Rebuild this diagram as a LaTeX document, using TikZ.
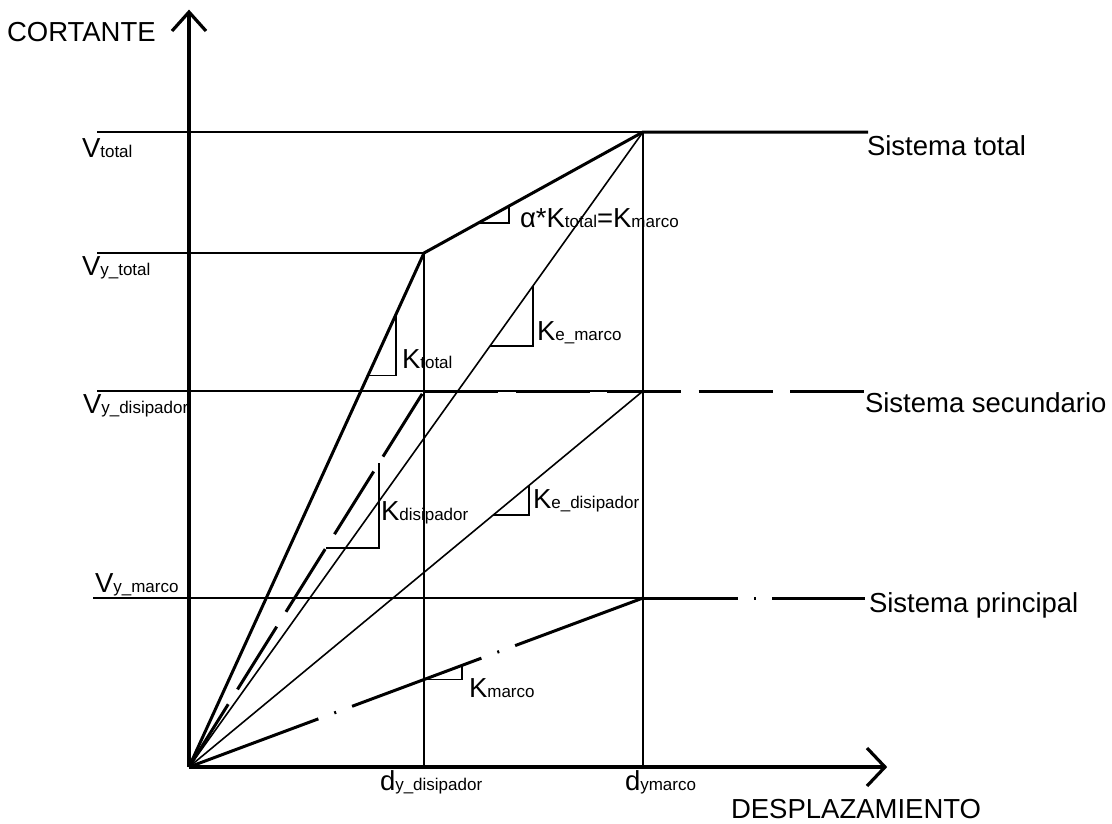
\documentclass[tikz,border=0pt]{standalone}
\usepackage{fontspec}
\setmainfont{Liberation Sans}
\usetikzlibrary{calc}
\newcommand{\bigtxt}{\fontsize{27.5}{30}\selectfont}
\newcommand{\subtxt}{\fontsize{17}{18}\selectfont}
\newcommand{\sym}[2]{{\bigtxt #1}{\subtxt #2}}

\begin{document}
\begin{tikzpicture}[x=1pt,y=-1pt,
  thinline/.style={line width=1.6pt},
  curve/.style={line width=3pt},
  axisline/.style={line width=3.2pt},
  secdash/.style={curve,dash pattern=on 74pt off 17.5pt},
  pridash/.style={curve,dash pattern=on 138pt off 17pt on 2pt off 17pt},
  prihdash/.style={curve,dash pattern=on 95pt off 16pt on 2pt off 16pt},
  lbl/.style={anchor=base west,inner sep=0pt,outer sep=0pt,font=\bigtxt}]
\useasboundingbox (0,0) rectangle (1112,823);

% key points of the curves
\coordinate (O)   at (189,767);
\coordinate (ytip) at (189,12);
\coordinate (xtip) at (885,767);
\coordinate (Pyt) at (424,253);
\coordinate (Pt)  at (643,132);
\coordinate (Pyd) at (424,391);
\coordinate (Pd)  at (643,391);
\coordinate (Pm)  at (643,598);
\coordinate (Et)  at (868,132);
\coordinate (Ed)  at (865,391);
\coordinate (Em)  at (865,598);
\coordinate (Lt)  at (97,132);
\coordinate (Lyt) at (97,253);
\coordinate (Lyd) at (97,391);
\coordinate (Lym) at (93,598);
\coordinate (Bd)  at (424,767);
\coordinate (Bm)  at (643,767);

% reference lines
\draw[thinline] (Lt) -- (Pt);
\draw[thinline] (Lyt) -- (Pyt);
\draw[thinline] (Lyd) -- (Pd);
\draw[thinline] (Lym) -- (Pm);
\draw[thinline] (Pyt) -- (Bd);
\draw[thinline] (Pt) -- (Bm);

% elastic stiffness lines
\draw[thinline] (O) -- (Pt);
\draw[thinline] (O) -- (Pd);

% total system
\draw[curve] (O) -- (Pyt) -- (Pt) -- (Et);
% secondary system (dissipator)
\draw[secdash] (O) -- (Pyd);
\draw[secdash] (Pyd) -- (Ed);
% main system (frame)
\draw[pridash] (O) -- (Pm);
\draw[prihdash] (Pm) -- (Em);

% axes
\draw[axisline] (O) -- (ytip);
\draw[axisline] ($(ytip)+(-17,19)$) -- (ytip) -- ($(ytip)+(17,19)$);
\draw[axisline] (O) -- (xtip);
\draw[axisline] ($(xtip)+(-18,-19)$) -- (xtip) -- ($(xtip)+(-18,19)$);

% slope triangles
\coordinate (a1) at ($(Pyt)!0.247!(Pt)$);
\coordinate (a2) at ($(Pyt)!0.388!(Pt)$);
\draw[thinline] (a1) -- (a1 -| a2) -- (a2);
\coordinate (b1) at ($(O)!0.762!(Pyt)$);
\coordinate (b2) at ($(O)!0.881!(Pyt)$);
\draw[thinline] (b1) -- (b1 -| b2) -- (b2);
\coordinate (c1) at ($(O)!0.663!(Pt)$);
\coordinate (c2) at ($(O)!0.758!(Pt)$);
\draw[thinline] (c1) -- (c1 -| c2) -- (c2);
\coordinate (d1) at ($(O)!0.583!(Pyd)$);
\coordinate (d2) at ($(O)!0.809!(Pyd)$);
\draw[thinline] (d1) -- (d1 -| d2) -- (d2);
\coordinate (e1) at ($(O)!0.670!(Pd)$);
\coordinate (e2) at ($(O)!0.749!(Pd)$);
\draw[thinline] (e1) -- (e1 -| e2) -- (e2);
\coordinate (f1) at ($(O)!0.518!(Pm)$);
\coordinate (f2) at ($(O)!0.601!(Pm)$);
\draw[thinline] (f1) -- (f1 -| f2) -- (f2);

% axis titles
\node[lbl] (cort) at (7,41) {CORTANTE};
\node[lbl] (desp) at (731,818) {DESPLAZAMIENTO};

% shear levels
\node[lbl] (vt)  at (82,157) {\sym{V}{total}};
\node[lbl] (vyt) at (82,275) {\sym{V}{y\_total}};
\node[lbl] (vyd) at (83,413) {\sym{V}{y\_disipador}};
\node[lbl] (vym) at (95,592) {\sym{V}{y\_marco}};

% displacements
\node[lbl] (dyd) at (380,790) {\sym{d}{y\_disipador}};
\node[lbl] (dym) at (625,790) {\sym{d}{ymarco}};

% stiffness labels
\node[lbl] (kalpha) at (520,227) {{\bigtxt α*K}{\subtxt total}{\bigtxt =K}{\subtxt marco}};
\node[lbl] (ktot)  at (402,368) {\sym{K}{total}};
\node[lbl] (kem)   at (537,340) {\sym{K}{e\_marco}};
\node[lbl] (kdis)  at (381,520) {\sym{K}{disipador}};
\node[lbl] (ked)   at (533,508) {\sym{K}{e\_disipador}};
\node[lbl] (kmar)  at (469,697) {\sym{K}{marco}};

% system names
\node[lbl] (st)  at (867,155) {Sistema total};
\node[lbl] (ss)  at (865,412) {Sistema secundario};
\node[lbl] (sp)  at (869,612) {Sistema principal};
\end{tikzpicture}
\end{document}
